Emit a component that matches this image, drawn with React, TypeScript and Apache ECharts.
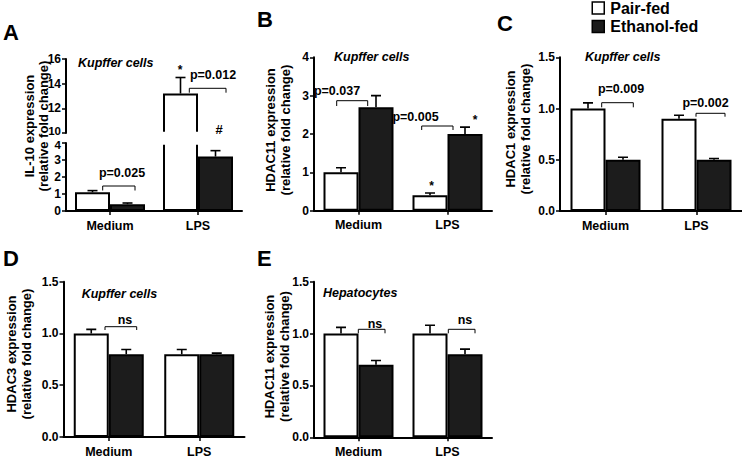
import React, { useEffect, useRef } from 'react';
import * as echarts from 'echarts';

// ---------- data ----------
const categories = ['Medium', 'LPS'];
const seriesNames = ['Pair-fed', 'Ethanol-fed'];

// A: IL-10 (Kupffer cells)
const il10Pair = [1.1, 13.2];
const il10PairErr = [0.1, 1.3];
const il10Eth = [0.4, 3.2];
const il10EthErr = [0.07, 0.35];
const il10UpperTicks = [10, 12, 14, 16];
const il10LowerTicks = [0, 1, 2, 3, 4];

// B: HDAC11 (Kupffer cells)
const hdac11KcPair = [1.0, 0.4];
const hdac11KcPairErr = [0.12, 0.06];
const hdac11KcEth = [2.7, 2.0];
const hdac11KcEthErr = [0.3, 0.18];
const hdac11KcTicks = [0, 1, 2, 3, 4];

// C: HDAC1 (Kupffer cells)
const hdac1Pair = [1.0, 0.9];
const hdac1PairErr = [0.055, 0.035];
const hdac1Eth = [0.5, 0.5];
const hdac1EthErr = [0.025, 0.012];
const hdac1Ticks = [0, 0.5, 1.0, 1.5];

// D: HDAC3 (Kupffer cells)
const hdac3Pair = [1.0, 0.8];
const hdac3PairErr = [0.04, 0.045];
const hdac3Eth = [0.8, 0.8];
const hdac3EthErr = [0.045, 0.01];
const hdac3Ticks = [0, 0.5, 1.0, 1.5];

// E: HDAC11 (Hepatocytes)
const hdac11HepPair = [1.0, 1.0];
const hdac11HepPairErr = [0.06, 0.08];
const hdac11HepEth = [0.7, 0.8];
const hdac11HepEthErr = [0.04, 0.05];
const hdac11HepTicks = [0, 0.5, 1.0, 1.5];

// ---------- layout / style ----------
const FONT = '"Liberation Sans", Arial, Helvetica, sans-serif';
const BAR_W = 35;
const BLACK = '#1c1c1c';

type Panel = {
  grid: { left: number; top: number; width: number; height: number };
  ticks: number[];
  decimals: number;
  pair: number[];
  pairErr: number[];
  eth: number[];
  ethErr: number[];
  showX: boolean;
  breakEdge?: 'bottom' | 'top';
};

const panels: Panel[] = [
  { grid: { left: 66, top: 59, width: 176, height: 74 }, ticks: il10UpperTicks, decimals: 0, pair: il10Pair, pairErr: il10PairErr, eth: il10Eth, ethErr: il10EthErr, showX: false, breakEdge: 'bottom' },
  { grid: { left: 66, top: 143, width: 176, height: 68 }, ticks: il10LowerTicks, decimals: 0, pair: il10Pair, pairErr: il10PairErr, eth: il10Eth, ethErr: il10EthErr, showX: true, breakEdge: 'top' },
  { grid: { left: 314, top: 57.3, width: 178, height: 153.4 }, ticks: hdac11KcTicks, decimals: 0, pair: hdac11KcPair, pairErr: hdac11KcPairErr, eth: hdac11KcEth, ethErr: hdac11KcEthErr, showX: true },
  { grid: { left: 560, top: 57.3, width: 182, height: 153.7 }, ticks: hdac1Ticks, decimals: 1, pair: hdac1Pair, pairErr: hdac1PairErr, eth: hdac1Eth, ethErr: hdac1EthErr, showX: true },
  { grid: { left: 63.5, top: 281.7, width: 181, height: 155.3 }, ticks: hdac3Ticks, decimals: 1, pair: hdac3Pair, pairErr: hdac3PairErr, eth: hdac3Eth, ethErr: hdac3EthErr, showX: true },
  { grid: { left: 314, top: 281.7, width: 178, height: 155.6 }, ticks: hdac11HepTicks, decimals: 1, pair: hdac11HepPair, pairErr: hdac11HepPairErr, eth: hdac11HepEth, ethErr: hdac11HepEthErr, showX: true },
];

function errorSeries(i: number, vals: number[], errs: number[], offset: number, name: string) {
  return {
    type: 'custom',
    name,
    xAxisIndex: i,
    yAxisIndex: i,
    clip: true,
    z: 5,
    encode: { x: 0, y: 1 },
    data: vals.map((v, k) => [k, v, errs[k]]),
    renderItem: (params: any, api: any) => {
      const idx = api.value(0);
      const v = api.value(1);
      const e = api.value(2);
      const base = api.coord([idx, v]);
      const top = api.coord([idx, v + e]);
      const x = base[0] + offset;
      const st = { stroke: '#000', lineWidth: 1.6 };
      return {
        type: 'group',
        children: [
          { type: 'line', shape: { x1: x, y1: base[1], x2: x, y2: top[1] }, style: st },
          { type: 'line', shape: { x1: x - 5, y1: top[1], x2: x + 5, y2: top[1] }, style: st },
        ],
      };
    },
  };
}

function txt(text: string, x: number, y: number, opts: any = {}) {
  return {
    type: 'text',
    x,
    y,
    z: 50,
    rotation: opts.rotation || 0,
    style: {
      text,
      fill: '#000',
      fontFamily: FONT,
      fontWeight: 'bold',
      fontStyle: opts.italic ? 'italic' : 'normal',
      fontSize: opts.size || 12.5,
      align: opts.align || 'center',
      verticalAlign: 'middle',
      lineHeight: opts.lh,
    },
  };
}

function bracket(x1: number, x2: number, yTop: number, yLeg: number) {
  return {
    type: 'polyline',
    z: 50,
    shape: { points: [[x1, yLeg], [x1, yTop], [x2, yTop], [x2, yLeg]] },
    style: { stroke: '#000', lineWidth: 1, fill: 'none' },
  };
}

function buildOption() {
  const grid = panels.map((p) => ({ ...p.grid, containLabel: false }));
  const xAxis = panels.map((p, i) => ({
    type: 'category',
    gridIndex: i,
    data: categories,
    show: p.showX,
    axisLine: { show: true, lineStyle: { color: '#000', width: 2 } },
    axisTick: { show: true, alignWithLabel: true, length: 4, lineStyle: { color: '#000', width: 1.5 } },
    axisLabel: { color: '#000', fontFamily: FONT, fontWeight: 'bold', fontSize: 12.5, margin: 8 },
    splitLine: { show: false },
  }));
  const yAxis = panels.map((p, i) => {
    const min = p.ticks[0];
    const max = p.ticks[p.ticks.length - 1];
    return {
      type: 'value',
      gridIndex: i,
      min,
      max,
      interval: p.ticks[1] - p.ticks[0],
      axisLine: { show: true, lineStyle: { color: '#000', width: 2 } },
      axisTick: { show: true, length: 4, lineStyle: { color: '#000', width: 1.5 } },
      axisLabel: {
        color: '#000',
        fontFamily: FONT,
        fontWeight: 'bold',
        fontSize: 12,
        margin: 5,
        formatter: (v: number) => {
          const s = p.decimals ? v.toFixed(p.decimals) : String(v);
          if (p.breakEdge === 'bottom' && v === min) return '{up|' + s + '}';
          if (p.breakEdge === 'top' && v === max) return '{dn|' + s + '}';
          return s;
        },
        rich: {
          up: { fontFamily: FONT, fontWeight: 'bold', fontSize: 11.5, color: '#000', padding: [0, 0, 4, 0] },
          dn: { fontFamily: FONT, fontWeight: 'bold', fontSize: 11.5, color: '#000', padding: [4, 0, 0, 0] },
        },
      },
      splitLine: { show: false },
    };
  });

  const series: any[] = [];
  panels.forEach((p, i) => {
    series.push({
      type: 'bar',
      name: seriesNames[0],
      xAxisIndex: i,
      yAxisIndex: i,
      data: p.pair,
      barWidth: BAR_W,
      barGap: '0%',
      clip: true,
      itemStyle: { color: '#ffffff', borderColor: '#000', borderWidth: 2 },
    });
    series.push({
      type: 'bar',
      name: seriesNames[1],
      xAxisIndex: i,
      yAxisIndex: i,
      data: p.eth,
      barWidth: BAR_W,
      barGap: '0%',
      clip: true,
      itemStyle: { color: BLACK, borderColor: '#000', borderWidth: 2 },
    });
    series.push(errorSeries(i, p.pair, p.pairErr, -BAR_W / 2, 'errP' + i));
    series.push(errorSeries(i, p.eth, p.ethErr, BAR_W / 2, 'errE' + i));
  });

  const graphic: any[] = [
    // hide clipped bar edges in the axis break of panel A
    { type: 'rect', z: 100, shape: { x: 159, y: 131.8, width: 41, height: 13 }, style: { fill: '#fff' } },
    // panel letters
    txt('A', 3, 32.5, { size: 22, align: 'left' }),
    txt('B', 257, 19.5, { size: 22, align: 'left' }),
    txt('C', 497, 23, { size: 22, align: 'left' }),
    txt('D', 3, 258.5, { size: 22, align: 'left' }),
    txt('E', 257, 258.5, { size: 22, align: 'left' }),
    // axis titles
    txt('IL-10 expression\n(relative fold change)', 36, 126, { size: 13, rotation: Math.PI / 2, lh: 14 }),
    txt('HDAC11 expression\n(relative fold change)', 278, 130, { size: 13, rotation: Math.PI / 2, lh: 15 }),
    txt('HDAC1 expression\n(relative fold change)', 518, 129, { size: 13, rotation: Math.PI / 2, lh: 15 }),
    txt('HDAC3 expression\n(relative fold change)', 19, 354, { size: 13, rotation: Math.PI / 2, lh: 15 }),
    txt('HDAC11 expression\n(relative fold change)', 276.5, 356.5, { size: 13, rotation: Math.PI / 2, lh: 15 }),
    // cell-type captions
    txt('Kupffer cells', 78, 63, { size: 12.5, italic: true, align: 'left' }),
    txt('Kupffer cells', 334, 57, { size: 12.5, italic: true, align: 'left' }),
    txt('Kupffer cells', 585, 57.3, { size: 12.5, italic: true, align: 'left' }),
    txt('Kupffer cells', 81.7, 294, { size: 12.5, italic: true, align: 'left' }),
    txt('Hepatocytes', 323, 293.3, { size: 12.5, italic: true, align: 'left' }),
    // A annotations
    txt('*', 180, 70, { size: 12 }),
    txt('p=0.012', 213, 75),
    bracket(189.3, 226, 88.3, 92.7),
    txt('#', 219, 129, { size: 13 }),
    txt('p=0.025', 122, 173),
    bracket(102.7, 135, 186, 190.5),
    // B annotations
    txt('p=0.037', 337, 90.7),
    bracket(336.7, 367.7, 100.7, 106),
    txt('p=0.005', 415.5, 117),
    bracket(421.7, 453, 126, 130),
    txt('*', 431.7, 185.7, { size: 12 }),
    txt('*', 475, 119.7, { size: 12 }),
    // C annotations
    txt('p=0.009', 621, 89.3),
    bracket(601.7, 633.3, 102.7, 107.3),
    txt('p=0.002', 705.5, 103.3),
    bracket(696, 725, 113.3, 116.7),
    // D annotations
    txt('ns', 125, 319.7),
    bracket(105, 136.7, 326.7, 330),
    // E annotations
    txt('ns', 375, 324),
    bracket(358.3, 385, 329.3, 333.3),
    txt('ns', 465, 320),
    bracket(448.3, 475, 329.3, 333.3),
  ];

  return {
    animation: false,
    backgroundColor: '#ffffff',
    legend: {
      data: seriesNames,
      orient: 'vertical',
      left: 591.5,
      top: 0,
      padding: 0,
      itemWidth: 12,
      itemHeight: 12,
      itemGap: 2.5,
      icon: 'rect',
      selectedMode: false,
      itemStyle: { borderWidth: 1.5 },
      textStyle: { color: '#000', fontFamily: FONT, fontWeight: 'bold', fontSize: 16, lineHeight: 16, padding: [0, 0, 0, 1] },
    },
    grid,
    xAxis,
    yAxis,
    series,
    graphic,
  };
}

export default function App() {
  const ref = useRef<HTMLDivElement>(null);
  useEffect(() => {
    if (!ref.current) return;
    const chart = echarts.init(ref.current, null, { renderer: 'svg' });
    chart.setOption(buildOption() as any);
    return () => chart.dispose();
  }, []);
  return (
    <div
      ref={ref}
      style={{ position: 'absolute', left: 0, top: 0, width: 742, height: 459, background: '#fff' }}
    />
  );
}
